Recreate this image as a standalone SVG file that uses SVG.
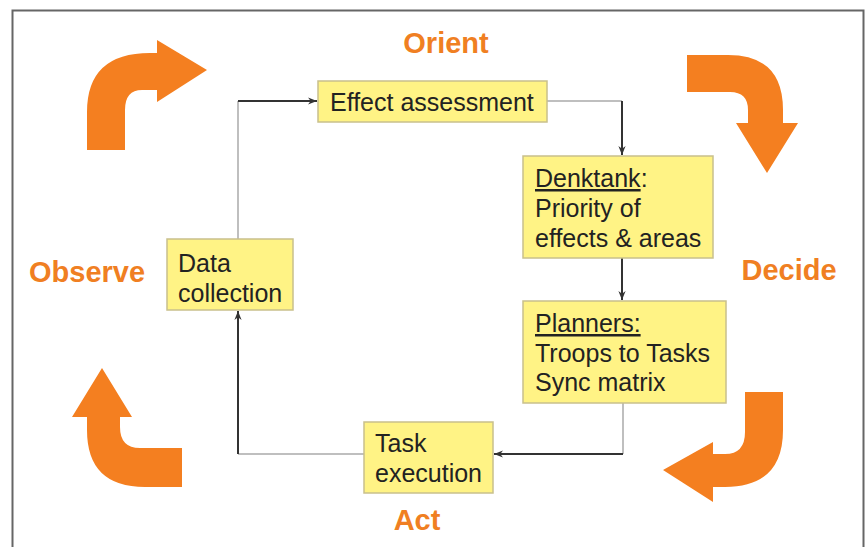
<svg xmlns="http://www.w3.org/2000/svg" width="867" height="547" viewBox="0 0 867 547">
<defs>
<style>
.box{fill:#FFF385;stroke:#C9C08C;stroke-width:1.5}
.t{font-family:"Liberation Sans",Arial,sans-serif;font-size:25px;fill:#222}
.lbl{font-family:"Liberation Sans",Arial,sans-serif;font-size:29px;font-weight:bold;fill:#F07F22}
.big{fill:#F47F20}
.dark{fill:none;stroke:#333;stroke-width:2}
.light{fill:none;stroke:#AAA;stroke-width:1.5}
</style>
<marker id="ah" viewBox="0 0 10 10" refX="10" refY="5" markerWidth="9" markerHeight="9" orient="auto" markerUnits="userSpaceOnUse">
<path d="M0,1 L10,5 L0,9 L3,5 Z" fill="#333"/>
</marker>
</defs>
<rect x="0" y="0" width="867" height="547" fill="#fff"/>
<path d="M12.5,560 L12.5,10.5 L863.5,10.5 L863.5,560" fill="none" stroke="#666" stroke-width="2"/>

<g id="big-arrows">
<path class="big" d="M87,150 L87,112 Q87,53 150,53 L157,53 L157,40 L207,70 L157,102 L157,90 L142,90 Q125,90 125,110 L125,150 Z"/>
<path class="big" d="M687,55 L728,55 Q783,55 783,110 L783,123 L798,123 L767,173 L736,123 L748,123 L748,110 Q748,92 730,92 L687,92 Z"/>
<path class="big" d="M745,392 L783,392 L783,430 Q783,487 725,487 L713,487 L713,502 L663,470 L713,442 L713,454 L725,454 Q745,454 745,432 Z"/>
<path class="big" d="M182,448 L140,448 Q120,448 120,427 L120,417 L132,417 L102,368 L72,417 L87,417 L87,430 Q87,487 145,487 L182,487 Z"/>
</g>

<g id="connectors">
<path class="light" d="M238,239 L238,101"/>
<path class="dark" d="M238,101 L317,101" marker-end="url(#ah)"/>
<path class="light" d="M547,101 L622,101"/>
<path class="dark" d="M622,101 L622,155" marker-end="url(#ah)"/>
<path class="dark" d="M622,258 L622,300" marker-end="url(#ah)"/>
<path class="light" d="M623,403 L623,454"/>
<path class="dark" d="M623,454 L494,454" marker-end="url(#ah)"/>
<path class="light" d="M364,454 L238,454"/>
<path class="dark" d="M238,454 L238,311" marker-end="url(#ah)"/>
</g>

<g id="effect-assessment">
<rect class="box" x="318" y="81" width="229" height="41"/>
<text class="t" x="330" y="111">Effect assessment</text>
</g>
<g id="denktank">
<rect class="box" x="523" y="156" width="190" height="102"/>
<text class="t" x="535" y="187"><tspan text-decoration="underline">Denktank</tspan>:</text>
<text class="t" x="535" y="217">Priority of</text>
<text class="t" x="535" y="247">effects &amp; areas</text>
</g>
<g id="planners">
<rect class="box" x="523" y="301" width="203" height="102"/>
<text class="t" x="535" y="332" text-decoration="underline">Planners:</text>
<text class="t" x="535" y="362">Troops to Tasks</text>
<text class="t" x="535" y="391">Sync matrix</text>
</g>
<g id="task-execution">
<rect class="box" x="364" y="422" width="129" height="71"/>
<text class="t" x="375" y="452">Task</text>
<text class="t" x="375" y="482">execution</text>
</g>
<g id="data-collection">
<rect class="box" x="167" y="239" width="126" height="71"/>
<text class="t" x="178" y="272">Data</text>
<text class="t" x="178" y="302">collection</text>
</g>

<g id="labels">
<text class="lbl" x="446" y="53" text-anchor="middle">Orient</text>
<text class="lbl" x="29" y="282">Observe</text>
<text class="lbl" x="789" y="280" text-anchor="middle">Decide</text>
<text class="lbl" x="417" y="530" text-anchor="middle">Act</text>
</g>
</svg>
